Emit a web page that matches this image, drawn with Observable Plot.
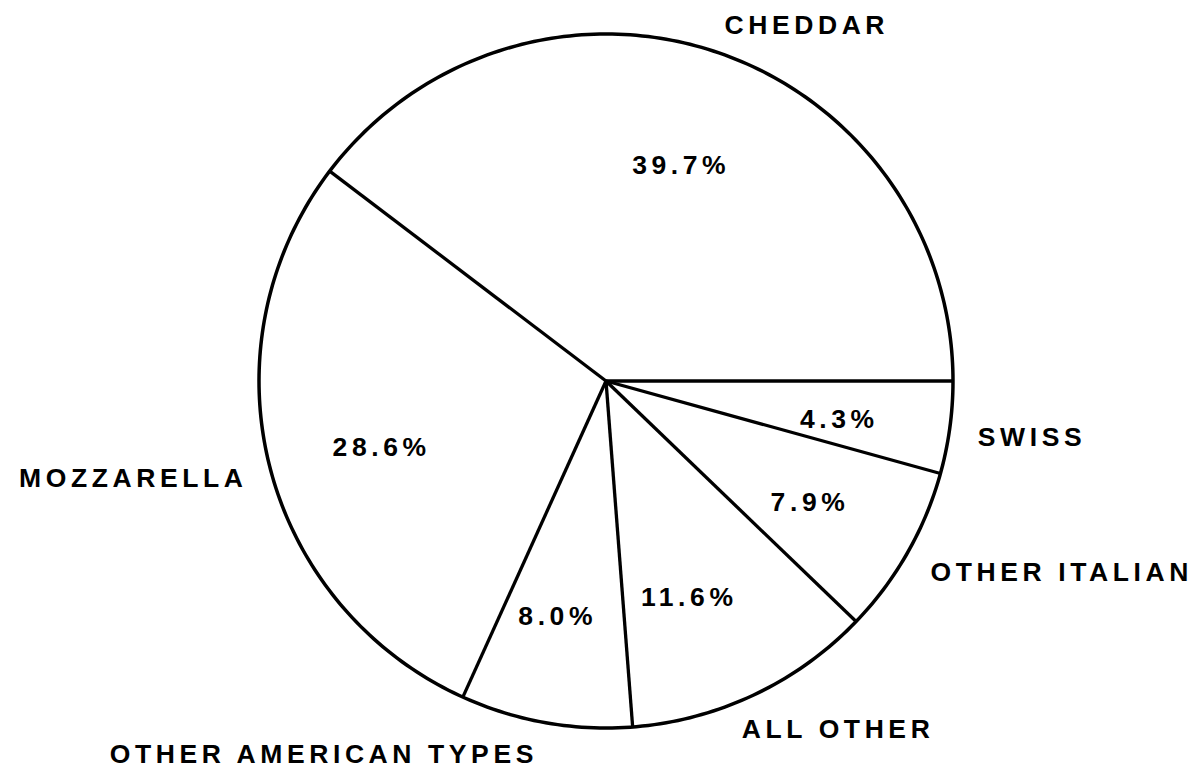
<!DOCTYPE html>
<html>
<head>
<meta charset="utf-8">
<script src="https://cdn.jsdelivr.net/npm/d3@7"></script>
<script src="https://cdn.jsdelivr.net/npm/@observablehq/plot@0.6"></script>
<style>
  html, body { margin: 0; padding: 0; background: #fff; }
  #chart svg text { letter-spacing: 4.6px; }
</style>
</head>
<body>
<div id="chart"></div>
<script>
// Data
const categories = ["CHEDDAR", "MOZZARELLA", "OTHER AMERICAN TYPES", "ALL OTHER", "OTHER ITALIAN", "SWISS"];
const shares = [39.7, 28.6, 8.0, 11.6, 7.9, 4.3];
const shareLabels = ["39.7%", "28.6%", "8.0%", "11.6%", "7.9%", "4.3%"];

// Layout (label nudges in pixels, anchors)
const nameAnchor = ["middle", "end", "middle", "middle", "start", "start"];
const nameDx = [90, -22, -222, 84, 23, 28];
const nameDy = [-27, 12, 32, 35, 20, 9.5];
const pctDx = [1, 1, -8, -16, 2, 3];
const pctDy = [4.5, 9, 7, 6, 6, 7];

const W = 1200, H = 771, cx = 605.5, cy = 380.5, R = 347;
const total = d3.sum(shares);

// Slices: start at 3 o'clock, going counter-clockwise
let cum = 0;
const slices = categories.map((name, i) => {
  const a0 = cum / total * 2 * Math.PI;
  cum += shares[i];
  const a1 = cum / total * 2 * Math.PI;
  const mid = (a0 + a1) / 2;
  return {name, pct: shareLabels[i], a0, a1, mid, i};
});

const circle = d3.range(0, 361).map(d => ({x: Math.cos(d * Math.PI / 180), y: Math.sin(d * Math.PI / 180)}));

const rim = slices.map(s => ({...s, x: Math.cos(s.mid), y: Math.sin(s.mid)}));
const inner = slices.map(s => ({...s, x: 0.67 * Math.cos(s.mid), y: 0.67 * Math.sin(s.mid)}));

const font = "Liberation Sans, Arial, sans-serif";

const nameMarks = rim.map((d, i) => Plot.text([d], {
  x: "x", y: "y", text: "name",
  textAnchor: nameAnchor[i], dx: nameDx[i], dy: nameDy[i],
  fontSize: 26.5, fontWeight: "bold", fill: "black"
}));
const pctMarks = inner.map((d, i) => Plot.text([d], {
  x: "x", y: "y", text: "pct",
  dx: pctDx[i], dy: pctDy[i],
  fontSize: 26.5, fontWeight: "bold", fill: "black"
}));

const chart = Plot.plot({
  width: W, height: H,
  margin: 0,
  x: {domain: [-cx / R, (W - cx) / R], range: [0, W], axis: null},
  y: {domain: [-(H - cy) / R, cy / R], range: [H, 0], axis: null},
  style: {fontFamily: font, background: "#fff", color: "black"},
  marks: [
    Plot.link(slices, {
      x1: () => 0, y1: () => 0,
      x2: d => Math.cos(d.a0), y2: d => Math.sin(d.a0),
      stroke: "black", strokeWidth: 3.3
    }),
    Plot.line(circle, {x: "x", y: "y", stroke: "black", strokeWidth: 3.5}),
    ...pctMarks,
    ...nameMarks
  ]
});
document.getElementById("chart").appendChild(chart);
</script>
</body>
</html>
